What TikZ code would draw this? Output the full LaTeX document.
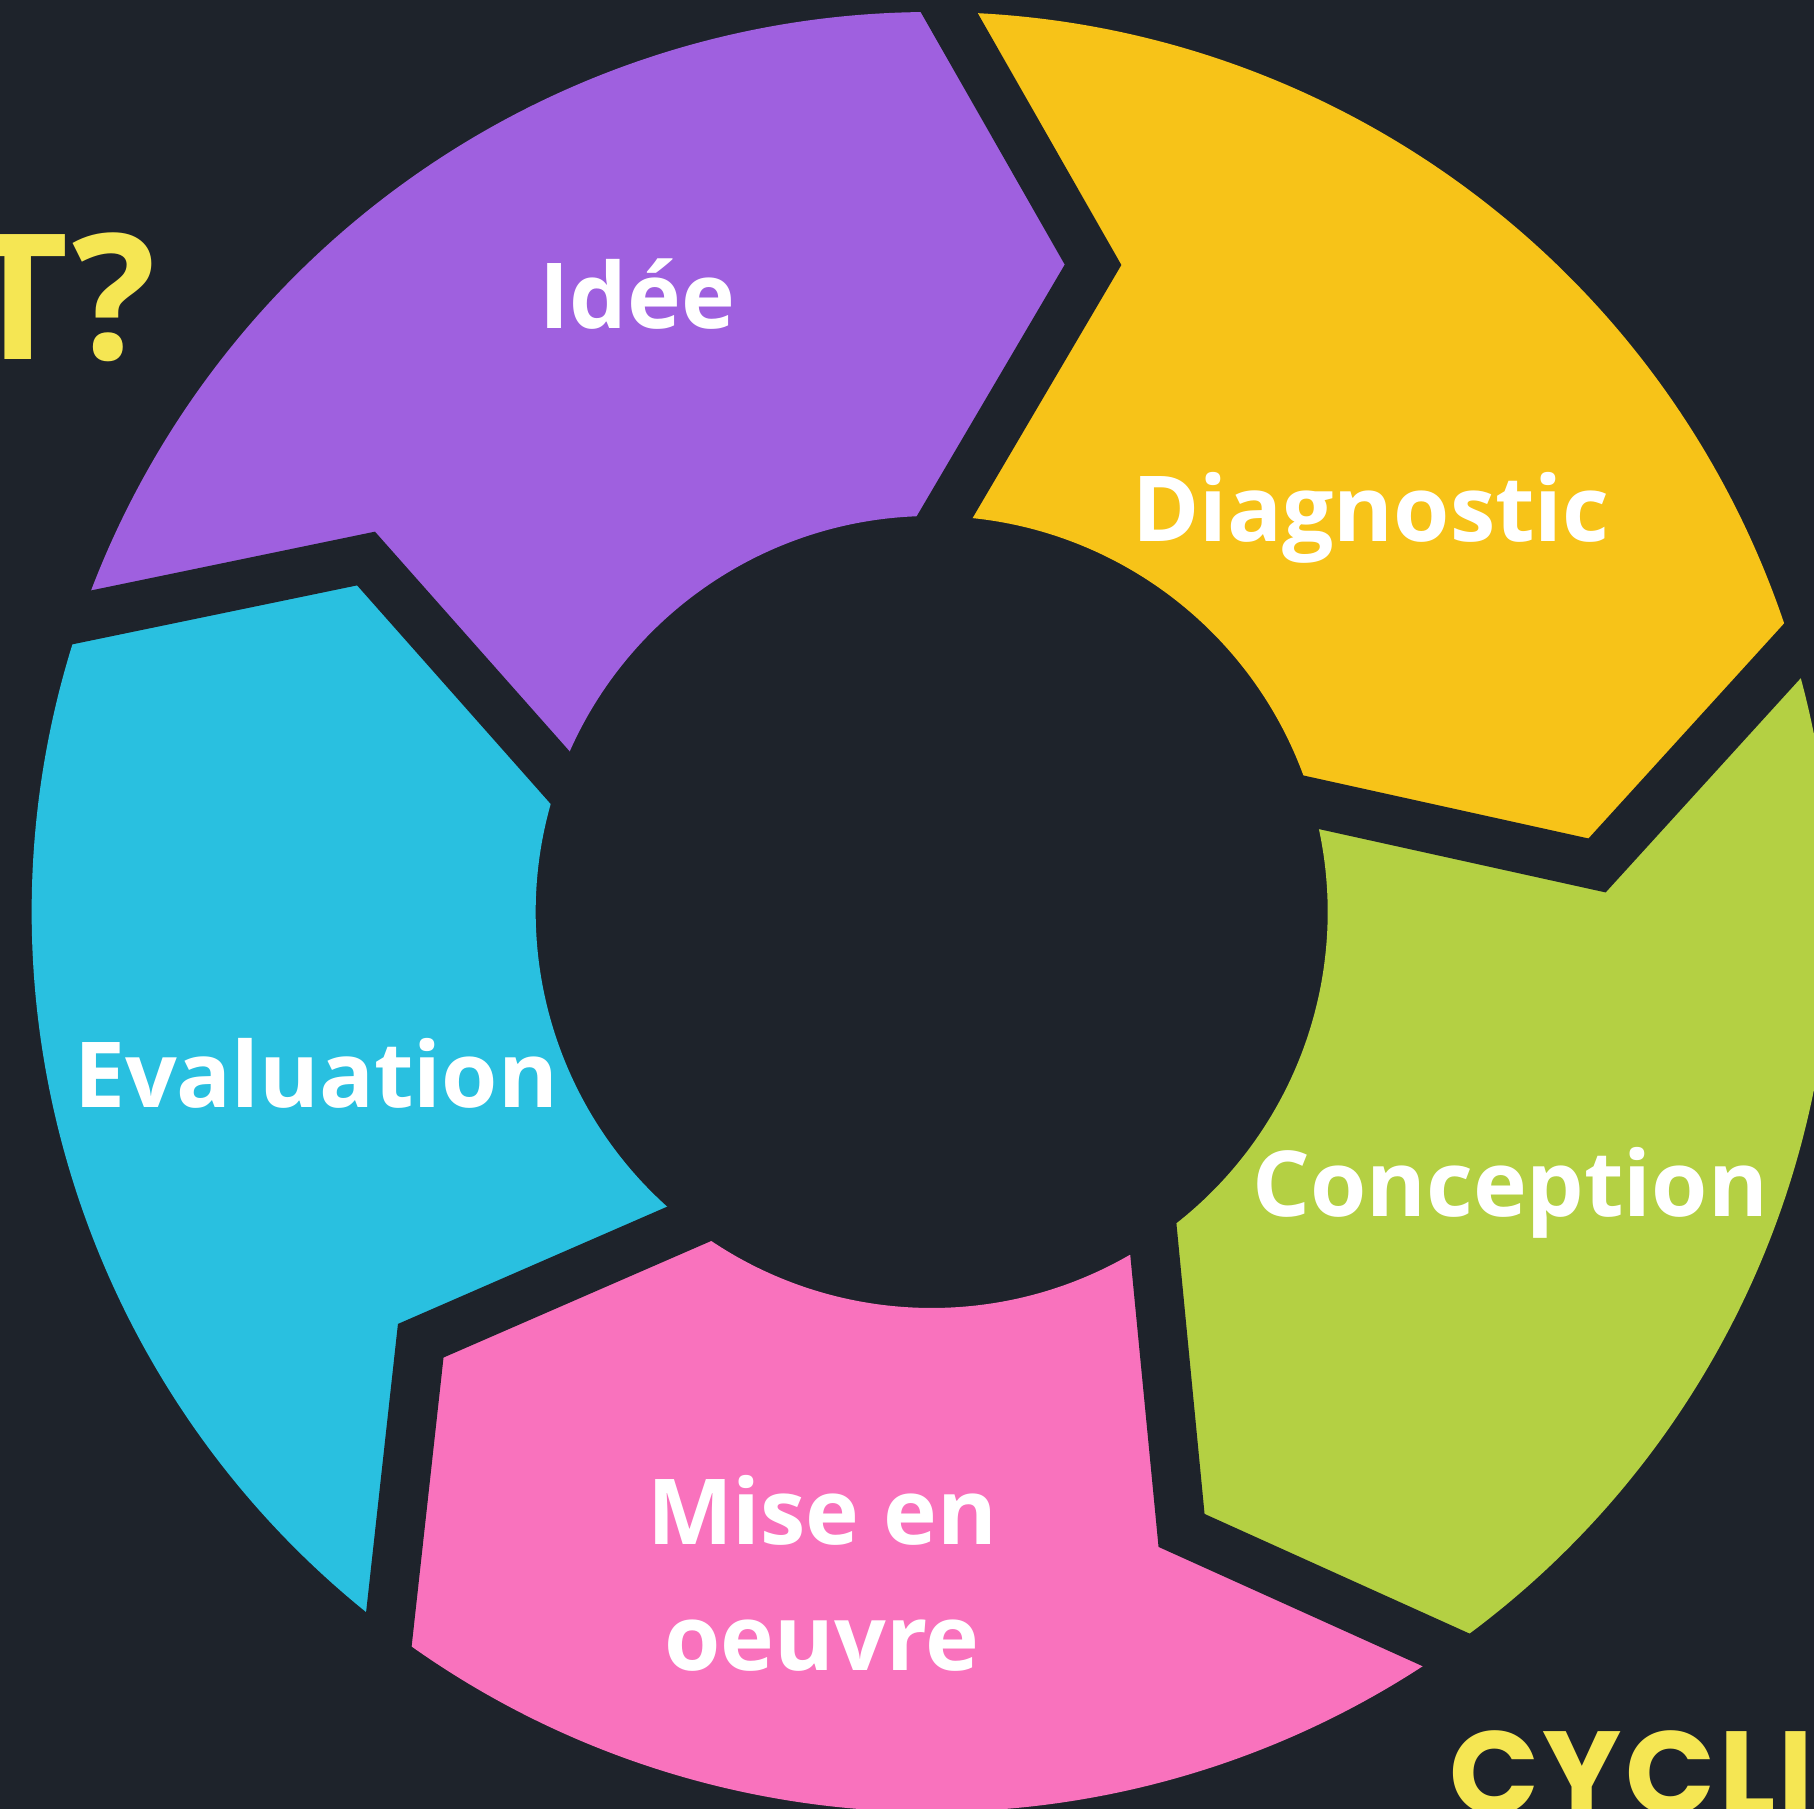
\documentclass[tikz,border=0pt]{standalone}
\usepackage{fontspec}
\setmainfont{Open Sans}
\newfontfamily\bannerfont[LetterSpace=3]{Poppins}
\definecolor{bg}{HTML}{1E232B}
\definecolor{idee}{HTML}{9F60DF}
\definecolor{diag}{HTML}{F7C318}
\definecolor{concep}{HTML}{B4D043}
\definecolor{mise}{HTML}{F972BD}
\definecolor{eval}{HTML}{29C0E0}
\definecolor{titleyellow}{HTML}{F5E653}
\begin{document}
\begin{tikzpicture}[x=0.1mm,y=0.1mm,
    phase/.style={text=white,font=\fontsize{25.9}{35.9}\selectfont\bfseries,inner sep=0pt},
    title/.style={text=titleyellow,inner sep=0pt},
    gap/.style={draw=bg,line width=4.9mm,line join=miter,shorten <=-8mm,shorten >=-8mm}]

    % Background
    \fill[bg] (-931.7,-897) rectangle (882.3,912);
    \useasboundingbox (-931.7,-897) rectangle (882.3,912);

    % Draw segments
    \foreach \a/\col [evaluate=\a as \b using \a-72] in
        {160.9/idee,88.9/diag,16.9/concep,-55.1/mise,-127.1/eval}
        \fill[fill=\col] (\a:900) arc[start angle=\a,delta angle=-72,radius=900]
            -- (\b-12.9:667) -- (\b-0.85:396) arc[start angle=\b-0.85,delta angle=72,radius=396]
            -- (\a-12.9:667) -- cycle;

    % Draw gaps
    \foreach \a in {88.9,16.9,-55.1,-127.1,-199.1}
        \draw[gap] (\a:900) -- (\a-12.9:667) -- (\a-0.85:396);

    % Define labels
    \node[phase,anchor=base] (idee) at (-294.2,583.4) {Idée};
    \node[phase,anchor=base] (diag) at (439.3,370.5) {Diagnostic};
    \node[phase,anchor=base] (concep) at (578.3,-305) {Conception};
    \node[phase,anchor=center,align=center] (mise) at (-109.7,-661.5) {Mise en\\oeuvre};
    \node[phase,anchor=base] (eval) at (-615.7,-196) {Evaluation};

    % Titles
    \node[title,anchor=base east,font=\fontsize{49.8}{60}\selectfont\bfseries] (question) at (-774.7,552) {T?};
    \node[title,anchor=base west,font=\bannerfont\fontsize{33.6}{40}\selectfont\bfseries] (cycle) at (517,-902) {CYCLI};

\end{tikzpicture}
\end{document}
